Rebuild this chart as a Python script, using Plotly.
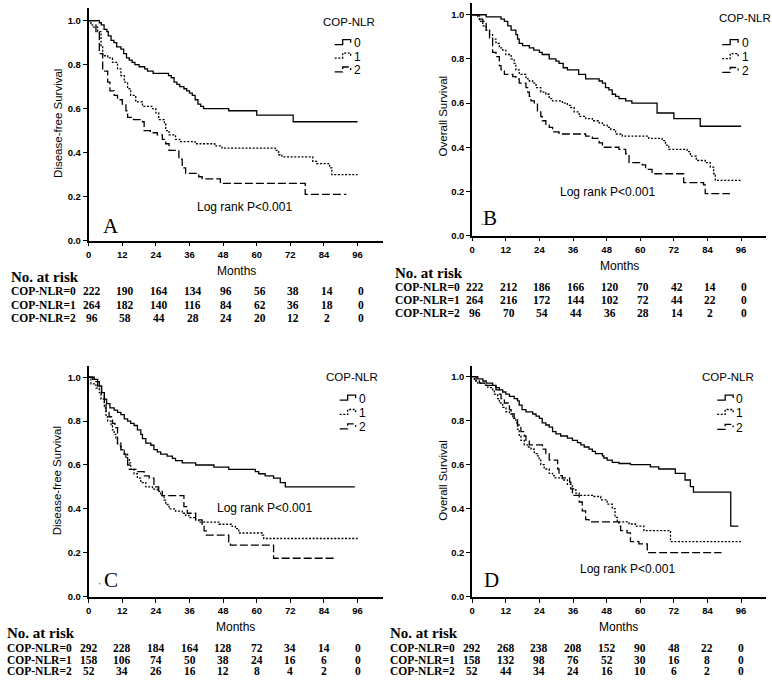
import plotly.graph_objects as go

W, H = 772, 687

# ---------------- data ----------------
month_ticks = [0, 12, 24, 36, 48, 60, 72, 84, 96]
surv_ticks = [0.0, 0.2, 0.4, 0.6, 0.8, 1.0]
surv_ticktext = ["0.0", "0.2", "0.4", "0.6", "0.8", "1.0"]
groups = ["0", "1", "2"]
risk_labels = ["COP-NLR=0", "COP-NLR=1", "COP-NLR=2"]

# Panel A: Disease-free survival
A0 = [(0, 1.0), (3.8, 0.99), (4.5, 0.98), (5.5, 0.96), (6.5, 0.95), (7, 0.93), (8, 0.91), (9, 0.90),
      (10, 0.88), (11.5, 0.87), (12.5, 0.85), (13.5, 0.83), (14.5, 0.82), (15.5, 0.81), (16.5, 0.80),
      (18, 0.79), (20, 0.78), (21, 0.77), (23, 0.76), (28.5, 0.75), (29.5, 0.74), (30.5, 0.72),
      (31.5, 0.71), (32.5, 0.70), (34, 0.69), (35, 0.68), (36, 0.67), (37, 0.66), (38, 0.64),
      (39, 0.62), (40, 0.61), (41, 0.60), (50, 0.59), (60, 0.57), (73, 0.54), (96, 0.54)]
A1 = [(0, 1.0), (0.8, 0.98), (1.4, 0.97), (3.2, 0.95), (4.4, 0.88), (5, 0.84), (6.8, 0.83), (8.5, 0.81),
      (10.3, 0.78), (11.5, 0.75), (12.7, 0.72), (13.9, 0.69), (15, 0.66), (16.8, 0.63), (19.2, 0.61),
      (22.8, 0.60), (24, 0.58), (25, 0.55), (27, 0.53), (27.5, 0.50), (28.7, 0.48), (31, 0.46),
      (32.5, 0.45), (38, 0.44), (45, 0.43), (47.6, 0.42), (66.6, 0.41), (67.8, 0.39), (69, 0.38),
      (80, 0.36), (81.4, 0.35), (86, 0.33), (86.8, 0.30), (96, 0.30)]
A2 = [(0, 1.0), (2.6, 0.95), (3.8, 0.85), (5, 0.77), (6.8, 0.72), (7.6, 0.68), (9.1, 0.66), (10.3, 0.64),
      (12, 0.62), (13.3, 0.59), (13.9, 0.56), (16, 0.55), (19.2, 0.54), (19.8, 0.50), (22, 0.49),
      (24.5, 0.48), (26.3, 0.46), (27.5, 0.44), (28.7, 0.41), (32.2, 0.37), (33.4, 0.33), (34.6, 0.305),
      (39.3, 0.29), (40.5, 0.28), (47, 0.26), (77.3, 0.21), (92, 0.21)]

# Panel B: Overall survival
B0 = [(0, 1.0), (5, 0.99), (10.3, 0.98), (11.5, 0.97), (12.7, 0.95), (13.9, 0.93), (15.6, 0.91),
      (16.2, 0.89), (16.8, 0.87), (18, 0.86), (20.4, 0.85), (22, 0.84), (24, 0.83), (25, 0.82),
      (27.5, 0.80), (29.9, 0.79), (31, 0.78), (32.5, 0.76), (34, 0.75), (38, 0.73), (40.5, 0.71),
      (45.3, 0.70), (46.5, 0.69), (47.6, 0.67), (48.8, 0.66), (50, 0.64), (51.2, 0.63), (52.4, 0.62),
      (54.8, 0.61), (57, 0.60), (66, 0.555), (72, 0.53), (81.4, 0.495), (96, 0.495)]
B1 = [(0, 1.0), (2.6, 0.97), (3.8, 0.95), (5, 0.93), (6.2, 0.91), (7.3, 0.89), (8.5, 0.87), (9.7, 0.85),
      (10.9, 0.84), (12, 0.82), (13.9, 0.80), (15, 0.78), (15.6, 0.75), (16.8, 0.73), (19.2, 0.71),
      (20.4, 0.70), (21.6, 0.69), (22.8, 0.67), (24.5, 0.65), (26.3, 0.64), (27.5, 0.62), (28.7, 0.61),
      (32.2, 0.60), (34, 0.59), (35.2, 0.58), (36.4, 0.56), (38.2, 0.54), (40.5, 0.53), (42.9, 0.52),
      (45.3, 0.51), (46.5, 0.50), (48.2, 0.49), (49.5, 0.48), (51.2, 0.46), (53.6, 0.45), (63, 0.44),
      (67.8, 0.43), (69, 0.41), (70.2, 0.39), (76.7, 0.38), (77.9, 0.36), (80, 0.34), (83.2, 0.33),
      (85, 0.31), (86.2, 0.28), (86.8, 0.25), (96, 0.25)]
B2 = [(0, 1.0), (2, 0.98), (3.8, 0.97), (5, 0.93), (6.2, 0.89), (7.3, 0.83), (8.5, 0.81), (9.7, 0.77),
      (10.3, 0.75), (11.5, 0.73), (14.5, 0.72), (15.6, 0.71), (16.8, 0.69), (19.2, 0.67), (19.8, 0.65),
      (20.4, 0.63), (21, 0.61), (22.2, 0.60), (23.3, 0.56), (24.5, 0.54), (25, 0.52), (26.3, 0.50),
      (27.5, 0.49), (28.7, 0.47), (31, 0.46), (40.5, 0.45), (42.9, 0.44), (45.3, 0.42), (46.5, 0.40),
      (52.4, 0.39), (54.8, 0.37), (56, 0.33), (60.7, 0.32), (61.9, 0.30), (64.2, 0.28), (75.5, 0.24),
      (82.6, 0.23), (83.2, 0.19), (92, 0.19)]

# Panel C: Disease-free survival
C0 = [(0, 1.0), (1.4, 0.99), (3.2, 0.98), (3.8, 0.96), (4.6, 0.93), (5.6, 0.90), (6.4, 0.88), (7.6, 0.86),
      (9.1, 0.85), (10.3, 0.84), (11.5, 0.83), (12.7, 0.81), (13.9, 0.80), (15, 0.79), (16.2, 0.78),
      (17.4, 0.76), (18.6, 0.74), (19.2, 0.72), (20.4, 0.70), (22.2, 0.69), (23.3, 0.67), (24.5, 0.66),
      (25.7, 0.65), (28, 0.64), (29.9, 0.63), (31, 0.62), (33.4, 0.61), (38.2, 0.60), (44.7, 0.59),
      (50, 0.58), (59.5, 0.57), (60.7, 0.56), (63, 0.55), (66, 0.54), (68.4, 0.52), (70.2, 0.50), (95, 0.50)]
C1 = [(0, 1.0), (0.8, 0.97), (2.6, 0.95), (3.8, 0.93), (4.4, 0.90), (5.6, 0.86), (6.2, 0.82), (6.8, 0.80),
      (8, 0.78), (8.5, 0.76), (9.1, 0.74), (9.7, 0.72), (10.3, 0.70), (11.5, 0.67), (12.7, 0.65),
      (13.9, 0.63), (14.5, 0.61), (15, 0.58), (16.2, 0.56), (17.4, 0.54), (18.6, 0.52), (20.4, 0.50),
      (22.8, 0.49), (24.5, 0.48), (25.7, 0.46), (26.9, 0.44), (27.5, 0.42), (28.7, 0.40), (31, 0.39),
      (33.4, 0.38), (34.6, 0.37), (35.8, 0.36), (38.2, 0.35), (39.3, 0.34), (46.5, 0.33), (51.2, 0.32),
      (52.4, 0.31), (53.6, 0.29), (61.9, 0.28), (62.5, 0.265), (96, 0.265)]
C2 = [(0, 1.0), (2, 0.98), (3.2, 0.96), (4.6, 0.92), (5.6, 0.88), (6.2, 0.84), (7.3, 0.82), (8.5, 0.79),
      (9.4, 0.77), (10.3, 0.69), (11.5, 0.67), (12.7, 0.65), (13.3, 0.63), (13.9, 0.60), (14.5, 0.58),
      (17.4, 0.57), (19.8, 0.55), (21.6, 0.54), (23.3, 0.50), (25, 0.48), (26.3, 0.46), (34, 0.41),
      (35.2, 0.38), (38.2, 0.35), (40.5, 0.33), (41.2, 0.30), (42, 0.28), (50, 0.25), (50.6, 0.235),
      (66, 0.175), (88.5, 0.175)]

# Panel D: Overall survival
D0 = [(0, 1.0), (2, 0.99), (3.8, 0.98), (5, 0.97), (7.3, 0.96), (8.5, 0.95), (9.7, 0.94), (10.9, 0.93),
      (12, 0.92), (13.3, 0.91), (15, 0.90), (16.2, 0.89), (16.8, 0.87), (17.8, 0.85), (19.2, 0.84),
      (21.6, 0.83), (22.8, 0.82), (24, 0.81), (25, 0.79), (26.3, 0.78), (27.5, 0.77), (28.7, 0.75),
      (29.9, 0.74), (31.6, 0.73), (34, 0.72), (35.8, 0.71), (37.6, 0.70), (38.8, 0.69), (40, 0.68),
      (41.7, 0.67), (42.9, 0.66), (44, 0.65), (46.5, 0.64), (47, 0.63), (48.2, 0.62), (50, 0.61),
      (52.4, 0.605), (56.5, 0.60), (63.6, 0.59), (66.6, 0.58), (72.5, 0.56), (76, 0.53), (77.9, 0.50),
      (79, 0.475), (92.3, 0.32), (95, 0.32)]
D1 = [(0, 1.0), (0.8, 0.98), (2, 0.97), (4.4, 0.96), (5.6, 0.95), (7.3, 0.94), (7.9, 0.92), (9.1, 0.90),
      (9.7, 0.88), (10.9, 0.86), (12.1, 0.84), (13.3, 0.83), (14.5, 0.81), (15.6, 0.79), (16.2, 0.76),
      (16.8, 0.73), (17.4, 0.71), (18.6, 0.69), (19.8, 0.68), (21, 0.67), (22.2, 0.65), (23.3, 0.64),
      (23.9, 0.62), (24.5, 0.60), (25.7, 0.58), (27.5, 0.56), (28.7, 0.55), (29.3, 0.54), (32.2, 0.53),
      (34, 0.51), (35.8, 0.49), (37, 0.47), (38.2, 0.46), (42.9, 0.455), (45.9, 0.44), (48.2, 0.42),
      (50, 0.40), (51, 0.36), (51.8, 0.34), (56, 0.33), (58.3, 0.32), (61.3, 0.30), (70.8, 0.25), (96, 0.25)]
D2 = [(0, 1.0), (1.4, 0.98), (2.6, 0.97), (5, 0.96), (8.5, 0.94), (9.7, 0.92), (10.3, 0.90), (11.5, 0.88),
      (13.3, 0.85), (13.9, 0.83), (15, 0.81), (16.2, 0.78), (17.4, 0.75), (18.6, 0.73), (19.2, 0.71),
      (20.4, 0.69), (25.1, 0.67), (26.3, 0.65), (27.5, 0.62), (30.5, 0.58), (31, 0.55), (32.2, 0.54),
      (34.8, 0.52), (35.2, 0.49), (35.8, 0.46), (38.2, 0.43), (39.3, 0.39), (40.5, 0.35), (41.7, 0.34),
      (52.4, 0.32), (53, 0.30), (55.3, 0.29), (56.5, 0.25), (59.5, 0.24), (62.5, 0.20), (89, 0.20)]

# Numbers at risk
A_risk0 = [222, 190, 164, 134, 96, 56, 38, 14, 0]
A_risk1 = [264, 182, 140, 116, 84, 62, 36, 18, 0]
A_risk2 = [96, 58, 44, 28, 24, 20, 12, 2, 0]
B_risk0 = [222, 212, 186, 166, 120, 70, 42, 14, 0]
B_risk1 = [264, 216, 172, 144, 102, 72, 44, 22, 0]
B_risk2 = [96, 70, 54, 44, 36, 28, 14, 2, 0]
C_risk0 = [292, 228, 184, 164, 128, 72, 34, 14, 0]
C_risk1 = [158, 106, 74, 50, 38, 24, 16, 6, 0]
C_risk2 = [52, 34, 26, 16, 12, 8, 4, 2, 0]
D_risk0 = [292, 268, 238, 208, 152, 90, 48, 22, 0]
D_risk1 = [158, 132, 98, 76, 52, 30, 16, 8, 0]
D_risk2 = [52, 44, 34, 24, 16, 10, 6, 2, 0]

# ---------------- layout helpers ----------------
def px(x):
    return x / W

def py(y):
    return 1 - y / H

SANS = "Arial, Liberation Sans, sans-serif"
SERIF = "Times New Roman, Liberation Serif, serif"
dashes = ["solid", "2px,1.6px", "8px,3px"]

panels = [
    dict(letter="A", ytitle="Disease-free Survival", curves=[A0, A1, A2], risk=[A_risk0, A_risk1, A_risk2],
         x0=86, x1=381.3, ybot=242.3, ytop=8.3, ymax=1.056,
         ytitle_pos=(55, 124), months_pos=(234, 272.5), logrank=(242, 209), letter_pos=(108, 228),
         leg_title=(347, 22.5), leg_x=333, leg_text_x=352, leg_y=[42.5, 56, 70],
         risk_x=8.5, risk_head_y=279.5, risk_y=[293.5, 307, 320], risk_shift=3),
    dict(letter="B", ytitle="Overall Survival", curves=[B0, B1, B2], risk=[B_risk0, B_risk1, B_risk2],
         x0=471, x1=766.3, ybot=237.3, ytop=3.3, ymax=1.052,
         ytitle_pos=(442, 117), months_pos=(619, 268), logrank=(607, 193), letter_pos=(489, 220),
         leg_title=(745, 18.5), leg_x=722, leg_text_x=742, leg_y=[42.5, 56.5, 70.5],
         risk_x=394, risk_head_y=274.5, risk_y=[289, 302, 315], risk_shift=3),
    dict(letter="C", ytitle="Disease-free Survival", curves=[C0, C1, C2], risk=[C_risk0, C_risk1, C_risk2],
         x0=86, x1=381.3, ybot=601, ytop=368.3, ymax=1.053,
         ytitle_pos=(55, 484), months_pos=(233, 632), logrank=(263, 512), letter_pos=(108, 584),
         leg_title=(350, 380), leg_x=338, leg_text_x=357, leg_y=[400.5, 415, 429.5],
         risk_x=4, risk_head_y=638, risk_y=[653, 664.5, 675.5], risk_shift=0),
    dict(letter="D", ytitle="Overall Survival", curves=[D0, D1, D2], risk=[D_risk0, D_risk1, D_risk2],
         x0=471, x1=766.3, ybot=601, ytop=368.3, ymax=1.05,
         ytitle_pos=(442, 484), months_pos=(618, 632), logrank=(627, 573), letter_pos=(490, 584),
         leg_title=(728, 380), leg_x=717, leg_text_x=736, leg_y=[400.5, 415, 430],
         risk_x=389, risk_head_y=638, risk_y=[653, 664.5, 675.5], risk_shift=0),
]


def note(x, y, text, font, xanchor="center", textangle=0, xref="paper", xshift=0):
    return dict(x=x, y=y, xref=xref, yref="paper", text=text, showarrow=False, xanchor=xanchor,
                yanchor="middle", textangle=textangle, font=font, xshift=xshift, borderpad=0, borderwidth=0)


fig = go.Figure()
annotations = []
shapes = []
layout_axes = {}
tickfont = dict(family=SANS, size=9.5, color="black", weight="bold")

for i, p in enumerate(panels):
    n = "" if i == 0 else str(i + 1)
    xref, yref = "x" + n, "y" + n
    for g, curve in enumerate(p["curves"]):
        t = [c[0] for c in curve]
        s = [c[1] for c in curve]
        fig.add_trace(go.Scatter(x=t, y=s, xaxis=xref, yaxis=yref, mode="lines",
                                 line=dict(shape="hv", color="black", width=1.3, dash=dashes[g]),
                                 showlegend=False, hoverinfo="skip"))
    layout_axes["xaxis" + n] = dict(
        domain=[px(p["x0"]), px(p["x1"])], range=[0, 105], anchor=yref,
        tickvals=month_ticks, ticks="outside", ticklen=4, tickwidth=1.2, tickcolor="black",
        showline=True, linecolor="black", linewidth=1.8, showgrid=False, zeroline=False,
        tickfont=tickfont, fixedrange=True)
    layout_axes["yaxis" + n] = dict(
        domain=[py(p["ybot"]), py(p["ytop"])], range=[0, p["ymax"]], anchor=xref,
        tickvals=surv_ticks, ticktext=surv_ticktext, ticks="outside", ticklen=4, tickwidth=1.2,
        tickcolor="black", showline=True, linecolor="black", linewidth=1.8, showgrid=False,
        zeroline=False, tickfont=tickfont, fixedrange=True)

    sans11 = dict(family=SANS, size=11.5, color="black")
    sans12 = dict(family=SANS, size=12, color="black")
    annotations.append(note(px(p["ytitle_pos"][0]), py(p["ytitle_pos"][1]), p["ytitle"], sans11, textangle=-90))
    annotations.append(note(px(p["months_pos"][0]), py(p["months_pos"][1]), "Months", sans12))
    annotations.append(note(px(p["logrank"][0]), py(p["logrank"][1]), "Log rank P<0.001", sans12))
    annotations.append(note(px(p["letter_pos"][0]), py(p["letter_pos"][1]), p["letter"],
                            dict(family=SERIF, size=21, color="black")))

    # legend
    annotations.append(note(px(p["leg_title"][0]), py(p["leg_title"][1]), "COP-NLR", sans11))
    for g, yc in enumerate(p["leg_y"]):
        lx = p["leg_x"]
        path = (f"M {px(lx)},{py(yc + 2.5)} L {px(lx + 8)},{py(yc + 2.5)} L {px(lx + 8)},{py(yc - 2.5)} "
                f"L {px(lx + 16)},{py(yc - 2.5)} L {px(lx + 16)},{py(yc + 0.5)}")
        shapes.append(dict(type="path", path=path, xref="paper", yref="paper",
                           line=dict(color="black", width=1.3, dash=dashes[g])))
        annotations.append(note(px(p["leg_text_x"]), py(yc + 1), groups[g], sans12, xanchor="left"))

    # number-at-risk table
    annotations.append(note(px(p["risk_x"]), py(p["risk_head_y"]), "<b>No. at risk</b>",
                            dict(family=SERIF, size=15, color="black"), xanchor="left"))
    for g, row in enumerate(p["risk"]):
        yy = py(p["risk_y"][g])
        annotations.append(note(px(p["risk_x"]), yy, "<b>" + risk_labels[g] + "</b>",
                                dict(family=SERIF, size=11.5, color="black"), xanchor="left"))
        for m, v in zip(month_ticks, row):
            annotations.append(note(m, yy, "<b>" + str(v) + "</b>", dict(family=SERIF, size=11.5, color="black"),
                                    xref=xref, xshift=p["risk_shift"]))

# small stray specks next to panel letters B and C
for cx, cy in [(481, 226), (97, 588)]:
    shapes.append(dict(type="circle", xref="paper", yref="paper",
                       x0=px(cx - 0.8), x1=px(cx + 0.8), y0=py(cy + 0.8), y1=py(cy - 0.8),
                       fillcolor="#666", line=dict(width=0)))

fig.update_layout(width=W, height=H, margin=dict(l=0, r=0, t=0, b=0),
                  paper_bgcolor="white", plot_bgcolor="white", showlegend=False,
                  annotations=annotations, shapes=shapes, **layout_axes)

fig.write_html("out.html", config={"displayModeBar": False},
               post_script="document.body.style.margin='0';document.body.style.padding='0';"
                           "document.body.style.overflow='hidden';")
